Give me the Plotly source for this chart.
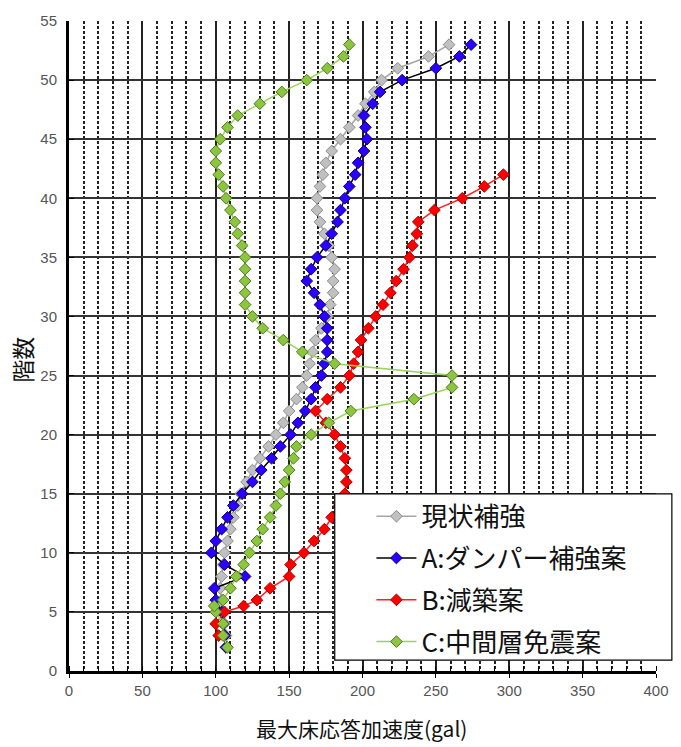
import plotly.graph_objects as go

# floor levels (階数)
floors_base = list(range(2, 54))                                   # 2F .. 53F
floors_b = [3, 4, 5, 5.5] + list(range(6, 43))                    # 3F .. 42F
floors_c = [2, 3, 4, 5, 5.5] + list(range(6, 54))                 # 2F .. 53F

# 現状補強 (2F..53F)
acc_current = [107, 107, 106, 105, 104, 103, 104, 105, 106, 108,
               110, 112, 115, 117, 121, 125, 130, 136, 141, 146,
               150, 155, 159, 162, 164, 166, 168, 172, 176, 178,
               180, 180, 181, 179, 177, 174, 171, 169, 169, 171,
               173, 175, 179, 185, 191, 197, 202, 208, 213, 224,
               245, 259]

# A:ダンパー補強案 (2F..53F)
acc_a = [107, 106, 105, 104, 100, 99, 120, 106, 97, 100,
         104, 108, 112, 118, 125, 131, 138, 144, 151, 156,
         161, 165, 168, 172, 174, 176, 176, 176, 174, 171,
         167, 162, 165, 169, 175, 179, 183, 185, 188, 191,
         195, 197, 201, 203, 202, 201, 207, 212, 227, 250,
         266, 274]

# B:減築案 (3F..42F)
acc_b = [102, 100, 106, 119, 128, 137, 150, 151, 160, 167,
         174, 179, 184, 188, 189, 189, 188, 185, 181, 175,
         168, 176, 185, 191, 194, 197, 199, 204, 209, 214,
         219, 223, 228, 232, 234, 237, 238, 249, 268, 283,
         296]

# C:中間層免震案 (2F..53F)
acc_c = [108, 105, 105, 100, 99, 105, 110, 114, 119, 123,
         128, 132, 137, 141, 144, 147, 150, 153, 155, 165,
         177, 192, 235, 261, 261, 181, 159, 146, 132, 125,
         120, 120, 120, 120, 120, 118, 115, 113, 110, 107,
         105, 102, 100, 100, 103, 108, 115, 130, 145, 162,
         176, 187, 191]

series = [
    ("現状補強", acc_current, floors_base, "#A6A6A6", "#C0C0C0", "#8C8C8C"),
    ("A:ダンパー補強案", acc_a, floors_base, "#000000", "#2A00FF", "#10007A"),
    ("B:減築案", acc_b, floors_b, "#FF2020", "#FF0000", "#B00000"),
    ("C:中間層免震案", acc_c, floors_c, "#9BD35A", "#8CC63F", "#4F7A22"),
]

fig = go.Figure()
for i, (name, xs, ys, lc, fc, oc) in enumerate(series):
    fig.add_trace(go.Scatter(
        x=xs, y=ys, name=name, mode="lines+markers",
        legendgroup=f"g{i}",
        line=dict(color=lc, width=1.5),
        marker=dict(symbol="diamond", size=9, color=fc,
                    line=dict(color=oc, width=1)),
    ))

L, R, T, B = 69, 20, 18, 76
W, H = 681, 747
pw, ph = W - L - R, H - T - B

def px_x(p):
    return (p - L) / pw

def px_y(p):
    return (H - B - p) / ph

tick_font = dict(family="Liberation Sans, Arial, sans-serif", size=15, color="#555555")

fig.update_layout(
    width=W, height=H,
    margin=dict(l=L, r=R, t=T, b=B),
    paper_bgcolor="white", plot_bgcolor="white",
    showlegend=True,
    legend=dict(
        x=px_x(374), y=px_y(492), xanchor="left", yanchor="top",
        bgcolor="rgba(0,0,0,0)", borderwidth=0,
        font=dict(family="Noto Sans CJK JP", size=26, color="#111111"),
        tracegroupgap=5, itemwidth=40,
    ),
    xaxis=dict(
        range=[0, 400], dtick=50, tick0=0,
        showgrid=True, gridcolor="#222222", gridwidth=1.5,
        minor=dict(dtick=10, showgrid=True, gridcolor="#222222",
                   gridwidth=1.6, griddash="3px,2px",
                   ticks="inside", ticklen=5, tickcolor="#000000"),
        ticks="outside", ticklen=4, tickcolor="#000000",
        showline=True, linecolor="#000000", linewidth=3,
        zeroline=False, tickfont=tick_font,
        fixedrange=True,
    ),
    yaxis=dict(
        range=[0, 55], dtick=5, tick0=0,
        showgrid=True, gridcolor="#333333", gridwidth=1.5,
        ticks="inside", ticklen=5, tickcolor="#000000",
        showline=True, linecolor="#000000", linewidth=3,
        zeroline=False, tickfont=tick_font,
        ticklabelstandoff=6,
        fixedrange=True,
    ),
    shapes=[
        # legend frame
        dict(type="rect", xref="paper", yref="paper",
             x0=px_x(337), x1=px_x(677), y0=px_y(660), y1=px_y(493),
             fillcolor="white", line=dict(color="#000000", width=1.2),
             layer="above"),
    ],
    annotations=[
        dict(text="最大床応答加速度(gal)", xref="paper", yref="paper",
             x=px_x(364), y=px_y(728), xanchor="center", yanchor="middle",
             showarrow=False,
             font=dict(family="Noto Sans CJK JP", size=21, color="#111111")),
        dict(text="階数", xref="paper", yref="paper",
             x=px_x(22), y=px_y(358), xanchor="center", yanchor="middle",
             textangle=-90, showarrow=False,
             font=dict(family="Noto Sans CJK JP", size=23, color="#111111")),
    ],
)

fig.write_html("out.html")
